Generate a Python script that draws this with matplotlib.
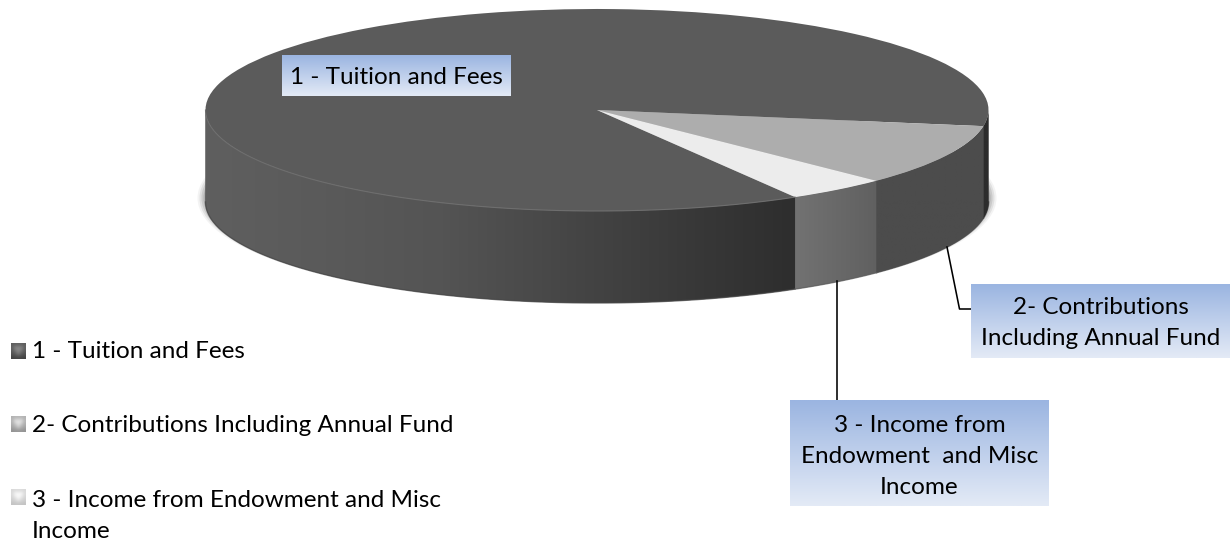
import numpy as np
import matplotlib
matplotlib.use("Agg")
import matplotlib.pyplot as plt
from matplotlib.patches import Ellipse, Polygon
from matplotlib.transforms import Affine2D
from matplotlib.colors import LinearSegmentedColormap

categories = ["1 - Tuition and Fees", "2- Contributions Including Annual Fund",
              "3 - Income from Endowment and Misc\nIncome"]
shares = [86.0, 9.8, 4.2]
callouts = ["1 - Tuition and Fees", "2- Contributions\nIncluding Annual Fund",
            "3 - Income from\nEndowment  and Misc\nIncome"]

plt.rcParams["font.family"] = ["Lato", "DejaVu Sans"]
FS = 17.45
LS = 1.58
W, H = 1231, 542
fig = plt.figure(figsize=(W / 100, H / 100), dpi=100, facecolor="white")
ax = fig.add_axes([0, 0, 1, 1])

cx, cy, rx, ry, depth = 597.0, 110.0, 391.5, 101.0, 92.0
start = 59.6
top_colors = ["#5b5b5b", "#adadad", "#ececec"]

# soft drop shadow below the disc
for grow, alpha in [(9, .08), (7, .13), (5, .18), (3, .25), (1.5, .3)]:
    ax.add_patch(Ellipse((cx, cy + 88), 2 * (rx + grow - 1), 2 * (ry + grow * .5),
                         fc="#666666", ec="none", alpha=alpha, zorder=1))

# top surface
wedges, _ = ax.pie(shares, startangle=start, counterclock=True, radius=rx, center=(cx, cy),
                   colors=top_colors)
squash = Affine2D().translate(-cx, -cy).scale(1, ry / rx).translate(cx, cy)
for w in wedges:
    w.set_transform(squash + ax.transData)
    w.set_zorder(4)
    w.set_edgecolor("none")

# dark base under the wall, so no seams show between the slices
th = np.radians(np.linspace(0, 180, 300))
xb, yb = cx + rx * np.cos(th), cy + ry * np.sin(th)
ax.add_patch(Polygon(np.r_[np.c_[xb, yb], np.c_[xb[::-1], yb[::-1] + depth]], closed=True,
                     fc="#4a4a4a", ec="none", zorder=2.5))

# side wall: a horizontal gradient clipped to each slice's visible wall
edges = start + np.cumsum([0] + shares) * 3.6
wall_parts = [
    (edges[0], 180.0, ["#5f5f5f", "#5a5a5a", "#545454", "#474747", "#3a3a3a", "#2e2e2e"]),
    (0.0, edges[1] - 360, ["#2c2c2c", "#2c2c2c"]),
    (edges[1] - 360, edges[2] - 360, ["#4c4c4c", "#4c4c4c"]),
    (edges[2] - 360, edges[3] - 360, ["#727272", "#606060"]),
]
for a0, a1, ramp in wall_parts:
    th = np.radians(np.linspace(a0, a1, 200))
    xs, ys = cx + rx * np.cos(th), cy + ry * np.sin(th)
    verts = np.r_[np.c_[xs, ys], np.c_[xs[::-1], ys[::-1] + depth]]
    x0, x1 = xs.min(), xs.max()
    cm = LinearSegmentedColormap.from_list("w", ramp)
    im = ax.imshow(np.linspace(0, 1, 128)[None, :], cmap=cm,
                   extent=(x0 - .5, x1 + .5, ys.max() + depth + 1, ys.min() - 1),
                   aspect="auto", zorder=3, interpolation="bilinear")
    clip = Polygon(verts, closed=True, transform=ax.transData, fc="none", ec="none")
    ax.add_patch(clip)
    im.set_clip_path(clip)
    # soft lower edge to smooth the clipped boundary
    ax.plot(xs, ys + depth, color=ramp[len(ramp) // 2], lw=1.0, alpha=.7, zorder=3.5)

# light rim on the front edge of the large slice
th = np.radians(np.linspace(edges[0], 180, 200))
ax.plot(cx + rx * np.cos(th), cy + ry * np.sin(th), color="#6e6e6e", lw=.8, zorder=5)


def gradient_box(x0, x1, y0, y1, top="#9bb5e1", bottom="#e3eaf6", z=6):
    cm = LinearSegmentedColormap.from_list("g", [top, bottom])
    ax.imshow(np.linspace(0, 1, 64)[:, None], cmap=cm, extent=(x0, x1, y1, y0), aspect="auto",
              zorder=z, interpolation="bilinear")


# leader lines
ax.plot([947, 959.5, 971], [247, 309, 309], color="black", lw=1.15, zorder=5, solid_joinstyle="round")
ax.plot([837, 837], [281, 400], color="black", lw=1.15, zorder=5)

# callouts (last-line baselines)
boxes = [(282, 511, 55, 96, 84), (971, 1230, 284, 358, 345), (790, 1049, 400, 506, 494)]
for (x0, x1, y0, y1, base), txt in zip(boxes, callouts):
    gradient_box(x0, x1, y0, y1)
    ax.text((x0 + x1) / 2, base, txt, ha="center", va="baseline", fontsize=FS,
            color="black", zorder=7, linespacing=LS)

# legend
marks = [("#3a3a3a", "#8a8a8a"), ("#8a8a8a", "#e4e4e4"), ("#bdbdbd", "#fbfbfb")]
glyph = np.array([[.45, .5, .5, .5, .45],
                  [.5, 1., 1., 1., .5],
                  [.4, .7, 1., .7, .4],
                  [.3, .4, .7, .4, .3],
                  [.1, .15, .15, .15, .1]])
rows = [(351, 358), (424, 432), (497, 538)]
for (dark, light), (ym, base), lab in zip(marks, rows, categories):
    cm = LinearSegmentedColormap.from_list("m", [dark, light])
    ax.imshow(glyph, cmap=cm, vmin=0, vmax=1, extent=(11, 26, ym + 8, ym - 8), aspect="auto",
              zorder=6, interpolation="bicubic")
    ax.text(32, base, lab, ha="left", va="baseline", fontsize=FS, color="black", zorder=7, linespacing=LS)

ax.set_aspect("auto")
ax.set_xlim(0, W)
ax.set_ylim(H, 0)
ax.axis("off")
fig.savefig("out.png", dpi=100, facecolor="white")
